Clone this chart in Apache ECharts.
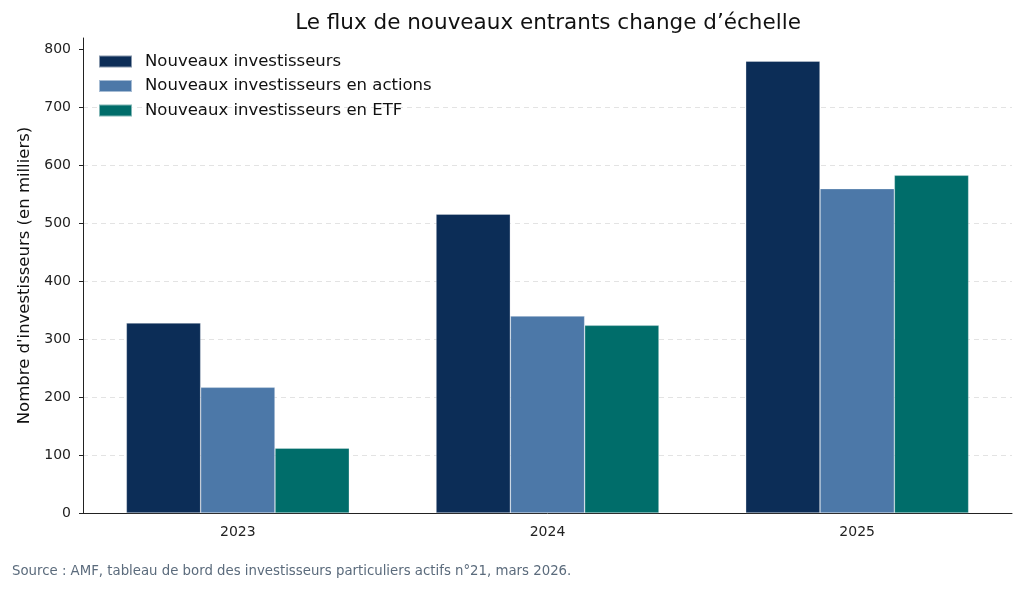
<!DOCTYPE html>
<html><head><meta charset="utf-8">
<script src="https://cdn.jsdelivr.net/npm/echarts@6/dist/echarts.min.js"></script>
<style>html,body{margin:0;padding:0;background:#fff}#c{width:1024px;height:589px}</style>
</head><body><div id="c"></div>
<script>
const categories = ['2023', '2024', '2025'];
const seriesNames = ['Nouveaux investisseurs', 'Nouveaux investisseurs en actions', 'Nouveaux investisseurs en ETF'];
const nouveaux = [328, 516, 780];
const actions = [217, 340, 560];
const etf = [112, 324, 583];
const yTicks = [0, 100, 200, 300, 400, 500, 600, 700, 800];
const colors = ['#0c2d57', '#4c78a8', '#006d6a'];

const font = 'DejaVu Sans';
const chart = echarts.init(document.getElementById('c'));
const mk = (name, data, color) => ({
  name, type: 'bar', data, barGap: '0%', barCategoryGap: '28%',
  itemStyle: { color, borderColor: 'rgba(255,255,255,0.5)', borderWidth: 0.6 },
  emphasis: { disabled: true }
});
chart.setOption({
  animation: false,
  textStyle: { fontFamily: font },
  title: [{
    text: 'Le flux de nouveaux entrants change d’échelle',
    left: 548, top: 12, textAlign: 'center', padding: 0,
    textStyle: { fontFamily: font, fontSize: 21.5, fontWeight: 'normal', color: '#111' }
  }, {
    text: 'Source : AMF, tableau de bord des investisseurs particuliers actifs n°21, mars 2026.',
    left: 12, top: 565, padding: 0,
    textStyle: { fontFamily: font, fontSize: 13.3, fontWeight: 'normal', color: '#5b6b7c' }
  }],
  legend: {
    orient: 'vertical', left: 93, top: 48, itemWidth: 33, itemHeight: 12, itemGap: 7.5,
    icon: 'rect',
    textStyle: { fontFamily: font, fontSize: 16.5, color: '#111', padding: [0, 0, 0, 8] },
    data: seriesNames
  },
  grid: { left: 83, right: 12, top: 38, bottom: 76 },
  xAxis: {
    type: 'category', data: categories,
    axisLine: { lineStyle: { color: '#222', width: 1 } },
    axisTick: { alignWithLabel: true, length: 4, lineStyle: { color: '#222' } },
    axisLabel: { fontFamily: font, fontSize: 14, color: '#222', margin: 12 }
  },
  yAxis: {
    type: 'value', min: 0, max: 820, interval: 100,
    name: 'Nombre d\'investisseurs (en milliers)', nameLocation: 'middle', nameGap: 48,
    nameTextStyle: { fontFamily: font, fontSize: 16.5, color: '#111' },
    axisLine: { show: true, lineStyle: { color: '#222', width: 1 } },
    axisTick: { show: true, length: 4, lineStyle: { color: '#222' }, customValues: yTicks },
    axisLabel: { fontFamily: font, fontSize: 14, color: '#222', margin: 12, customValues: yTicks },
    splitLine: { show: true, showMaxLine: false, lineStyle: { color: '#e3e3e3', type: [5, 4], width: 1 } }
  },
  series: [mk(seriesNames[0], nouveaux, colors[0]), mk(seriesNames[1], actions, colors[1]), mk(seriesNames[2], etf, colors[2])]
});
</script></body></html>
